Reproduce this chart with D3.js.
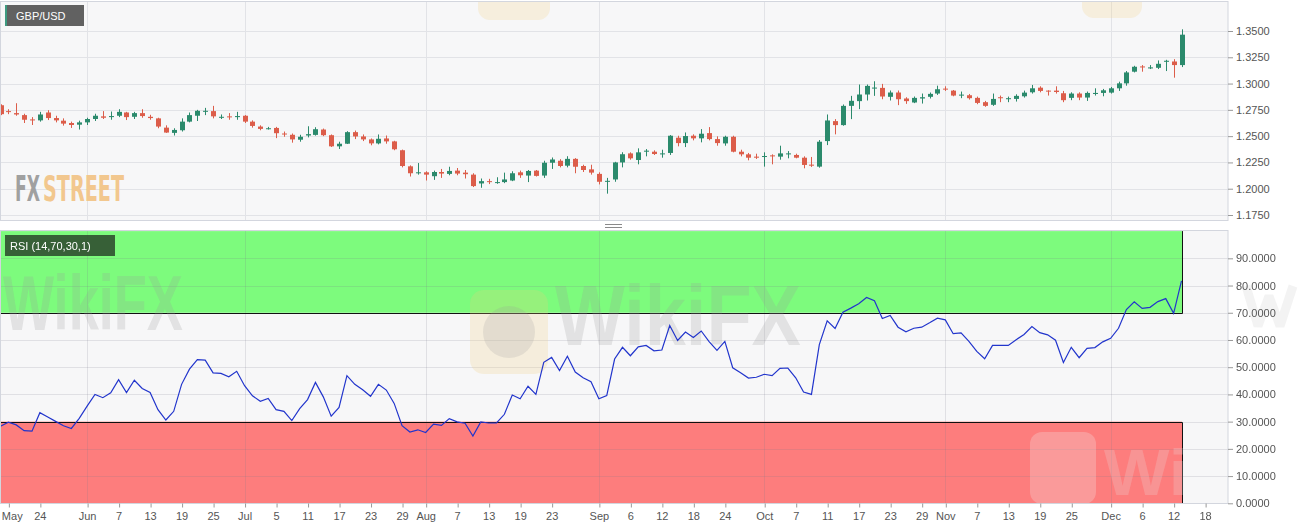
<!DOCTYPE html>
<html>
<head>
<meta charset="utf-8">
<script src="https://cdn.jsdelivr.net/npm/d3@7"></script>
<style>
  html, body { margin: 0; padding: 0; background: #fff; }
  svg { display: block; font-family: "Liberation Sans", Arial, sans-serif; }
  .axis text { fill: #555; font-size: 11px; }
  .axis line { stroke: #999; }
  .axis path { display: none; }
</style>
</head>
<body>
<svg id="chart" width="1299" height="530"></svg>
<script>
// GBP/USD daily, 17 May 2019 .. 13 Dec 2019 (one value per trading day)
const firstDay = new Date(2019, 4, 17);
const lastCalendarDay = new Date(2019, 11, 21);

const open = [
  1.2794, 1.2738, 1.2719, 1.2700, 1.2659, 1.2650, 1.2725, 1.2672, 1.2647, 1.2625,
  1.2609, 1.2631, 1.2663, 1.2688, 1.2681, 1.2694, 1.2725, 1.2684, 1.2719, 1.2684,
  1.2669, 1.2581, 1.2531, 1.2556, 1.2638, 1.2694, 1.2734, 1.2738, 1.2678, 1.2688,
  1.2681, 1.2694, 1.2638, 1.2591, 1.2569, 1.2578, 1.2525, 1.2513, 1.2466, 1.2506,
  1.2512, 1.2563, 1.2509, 1.2403, 1.2428, 1.2538, 1.2497, 1.2469, 1.2431, 1.2478,
  1.2450, 1.2366, 1.2213, 1.2147, 1.2156, 1.2119, 1.2159, 1.2141, 1.2172, 1.2153,
  1.2134, 1.2050, 1.2072, 1.2056, 1.2063, 1.2078, 1.2156, 1.2125, 1.2172, 1.2125,
  1.2247, 1.2266, 1.2219, 1.2284, 1.2216, 1.2184, 1.2141, 1.2069, 1.2088, 1.2250,
  1.2336, 1.2273, 1.2352, 1.2352, 1.2327, 1.2340, 1.2485, 1.2434, 1.2504, 1.2479,
  1.2529, 1.2472, 1.2431, 1.2494, 1.2352, 1.2327, 1.2305, 1.2302, 1.2317, 1.2305,
  1.2327, 1.2321, 1.2295, 1.2229, 1.2210, 1.2453, 1.2643, 1.2605, 1.2788, 1.2833,
  1.2896, 1.2953, 1.2959, 1.2874, 1.2915, 1.2858, 1.2820, 1.2858, 1.2874, 1.2905,
  1.2952, 1.2933, 1.2886, 1.2889, 1.2864, 1.2823, 1.2798, 1.2870, 1.2851, 1.2854,
  1.2879, 1.2917, 1.2961, 1.2933, 1.2933, 1.2908, 1.2864, 1.2905, 1.2867, 1.2901,
  1.2911, 1.2914, 1.2955, 1.3002, 1.3113, 1.3163, 1.3144, 1.3150, 1.3207, 1.3210,
  1.3176
];
const high = [
  1.2803, 1.2756, 1.2813, 1.2713, 1.2681, 1.2731, 1.2747, 1.2694, 1.2669, 1.2638,
  1.2647, 1.2675, 1.2713, 1.2738, 1.2734, 1.2756, 1.2731, 1.2731, 1.2756, 1.2703,
  1.2675, 1.2603, 1.2575, 1.2669, 1.2725, 1.2750, 1.2769, 1.2788, 1.2706, 1.2719,
  1.2731, 1.2700, 1.2650, 1.2603, 1.2588, 1.2588, 1.2544, 1.2525, 1.2513, 1.2594,
  1.2585, 1.2572, 1.2516, 1.2447, 1.2547, 1.2553, 1.2516, 1.2478, 1.2516, 1.2506,
  1.2456, 1.2372, 1.2222, 1.2244, 1.2166, 1.2172, 1.2188, 1.2209, 1.2197, 1.2178,
  1.2147, 1.2097, 1.2094, 1.2109, 1.2153, 1.2166, 1.2172, 1.2178, 1.2178, 1.2266,
  1.2297, 1.2281, 1.2309, 1.2291, 1.2228, 1.2228, 1.2156, 1.2103, 1.2256, 1.2347,
  1.2346, 1.2384, 1.2377, 1.2365, 1.2371, 1.2510, 1.2504, 1.2535, 1.2517, 1.2567,
  1.2586, 1.2498, 1.2504, 1.2504, 1.2371, 1.2340, 1.2333, 1.2346, 1.2327, 1.2409,
  1.2358, 1.2333, 1.2308, 1.2302, 1.2463, 1.2706, 1.2662, 1.2801, 1.2883, 1.2991,
  1.2991, 1.3022, 1.2997, 1.2934, 1.2934, 1.2870, 1.2877, 1.2905, 1.2915, 1.2980,
  1.2974, 1.2939, 1.2924, 1.2901, 1.2876, 1.2835, 1.2905, 1.2886, 1.2876, 1.2898,
  1.2933, 1.2987, 1.2974, 1.2936, 1.2974, 1.2930, 1.2917, 1.2917, 1.2924, 1.2955,
  1.2949, 1.2968, 1.3018, 1.3119, 1.3169, 1.3176, 1.3176, 1.3220, 1.3226, 1.3232,
  1.3516
];
const low = [
  1.2700, 1.2709, 1.2694, 1.2625, 1.2606, 1.2638, 1.2653, 1.2631, 1.2600, 1.2578,
  1.2563, 1.2606, 1.2644, 1.2663, 1.2656, 1.2681, 1.2653, 1.2663, 1.2675, 1.2656,
  1.2575, 1.2531, 1.2506, 1.2544, 1.2631, 1.2644, 1.2700, 1.2669, 1.2663, 1.2656,
  1.2656, 1.2625, 1.2581, 1.2556, 1.2563, 1.2481, 1.2494, 1.2438, 1.2447, 1.2488,
  1.2505, 1.2500, 1.2397, 1.2378, 1.2425, 1.2472, 1.2453, 1.2413, 1.2422, 1.2428,
  1.2366, 1.2203, 1.2116, 1.2134, 1.2078, 1.2084, 1.2103, 1.2128, 1.2128, 1.2097,
  1.2016, 1.2009, 1.2044, 1.2047, 1.2053, 1.2072, 1.2103, 1.2063, 1.2116, 1.2103,
  1.2188, 1.2203, 1.2203, 1.2147, 1.2159, 1.2134, 1.2041, 1.1953, 1.2066, 1.2203,
  1.2276, 1.2232, 1.2308, 1.2321, 1.2295, 1.2321, 1.2403, 1.2396, 1.2460, 1.2441,
  1.2460, 1.2409, 1.2409, 1.2346, 1.2308, 1.2270, 1.2283, 1.2210, 1.2232, 1.2276,
  1.2289, 1.2289, 1.2194, 1.2207, 1.2200, 1.2415, 1.2517, 1.2599, 1.2662, 1.2757,
  1.2839, 1.2883, 1.2851, 1.2839, 1.2795, 1.2807, 1.2814, 1.2810, 1.2858, 1.2892,
  1.2930, 1.2879, 1.2861, 1.2848, 1.2804, 1.2779, 1.2788, 1.2823, 1.2823, 1.2829,
  1.2867, 1.2905, 1.2917, 1.2886, 1.2905, 1.2823, 1.2842, 1.2842, 1.2835, 1.2886,
  1.2879, 1.2905, 1.2930, 1.2980, 1.3106, 1.3113, 1.3138, 1.3138, 1.3119, 1.3056,
  1.3157
];
const close = [
  1.2709, 1.2731, 1.2706, 1.2656, 1.2653, 1.2706, 1.2672, 1.2650, 1.2619, 1.2606,
  1.2631, 1.2663, 1.2694, 1.2675, 1.2691, 1.2731, 1.2681, 1.2719, 1.2691, 1.2672,
  1.2591, 1.2534, 1.2559, 1.2638, 1.2700, 1.2741, 1.2741, 1.2688, 1.2684, 1.2681,
  1.2691, 1.2638, 1.2597, 1.2569, 1.2575, 1.2528, 1.2519, 1.2469, 1.2494, 1.2519,
  1.2566, 1.2509, 1.2403, 1.2428, 1.2538, 1.2497, 1.2469, 1.2431, 1.2475, 1.2450,
  1.2375, 1.2216, 1.2147, 1.2156, 1.2134, 1.2159, 1.2144, 1.2169, 1.2144, 1.2138,
  1.2025, 1.2072, 1.2066, 1.2063, 1.2088, 1.2147, 1.2128, 1.2169, 1.2122, 1.2247,
  1.2278, 1.2216, 1.2284, 1.2209, 1.2178, 1.2153, 1.2066, 1.2075, 1.2250, 1.2328,
  1.2289, 1.2346, 1.2362, 1.2330, 1.2336, 1.2504, 1.2434, 1.2501, 1.2479, 1.2523,
  1.2472, 1.2434, 1.2494, 1.2352, 1.2327, 1.2295, 1.2295, 1.2311, 1.2308, 1.2336,
  1.2336, 1.2295, 1.2226, 1.2219, 1.2447, 1.2649, 1.2605, 1.2788, 1.2836, 1.2896,
  1.2978, 1.2962, 1.2877, 1.2915, 1.2851, 1.2833, 1.2864, 1.2870, 1.2902, 1.2946,
  1.2946, 1.2886, 1.2895, 1.2861, 1.2816, 1.2788, 1.2854, 1.2861, 1.2861, 1.2883,
  1.2914, 1.2955, 1.2930, 1.2924, 1.2920, 1.2842, 1.2905, 1.2867, 1.2911, 1.2911,
  1.2936, 1.2955, 1.3002, 1.3106, 1.3160, 1.3154, 1.3154, 1.3188, 1.3217, 1.3176,
  1.3465
];
const rsi = [
  28.3, 29.8, 28.8, 26.7, 26.5, 33.3, 31.7, 30.1, 28.5, 27.5,
  31.2, 35.7, 40.0, 38.8, 40.6, 45.4, 40.7, 45.2, 42.2, 40.7,
  34.4, 30.6, 33.8, 43.7, 49.3, 52.8, 52.6, 47.9, 47.7, 46.5,
  48.5, 43.2, 39.5, 37.5, 38.5, 34.4, 33.8, 30.4, 34.8, 38.1,
  44.4, 39.1, 32.0, 35.2, 46.9, 43.7, 41.7, 39.3, 43.7, 41.6,
  36.7, 28.5, 26.2, 27.0, 26.0, 29.1, 28.6, 31.1, 29.9, 29.4,
  24.7, 29.9, 29.5, 29.5, 32.7, 39.8, 38.4, 43.0, 40.0, 51.8,
  53.6, 48.8, 54.0, 48.2, 46.1, 44.7, 38.4, 39.6, 53.0, 57.3,
  54.2, 57.5, 58.0, 56.0, 56.3, 65.3, 59.8, 62.9, 60.9, 63.3,
  59.4, 56.2, 59.5, 49.8, 48.0, 46.0, 46.3, 47.4, 46.9, 49.6,
  49.7, 46.1, 40.9, 40.0, 58.3, 67.0, 64.2, 70.2, 71.7, 73.3,
  75.6, 74.4, 67.9, 69.0, 64.7, 63.0, 64.3, 64.7, 66.3, 68.0,
  67.4, 62.3, 62.6, 59.5, 55.8, 53.1, 58.0, 58.0, 58.0, 60.1,
  62.0, 64.9, 62.7, 61.9, 59.9, 51.7, 57.3, 53.5, 56.9, 57.2,
  59.3, 60.6, 64.3, 71.2, 74.0, 71.6, 72.0, 74.1, 75.2, 69.8,
  81.7
];

const priceTicks = [1.175, 1.2, 1.225, 1.25, 1.275, 1.3, 1.325, 1.35];
const rsiTicks = [0, 10, 20, 30, 40, 50, 60, 70, 80, 90];
const rsiUpper = 70, rsiLower = 30;

const tickDates = ['2019-05-20', '2019-05-24', '2019-06-03', '2019-06-07', '2019-06-13', '2019-06-19',
  '2019-06-25', '2019-07-01', '2019-07-05', '2019-07-11', '2019-07-17', '2019-07-23', '2019-07-29',
  '2019-08-01', '2019-08-07', '2019-08-13', '2019-08-19', '2019-08-23', '2019-09-02', '2019-09-06',
  '2019-09-12', '2019-09-18', '2019-09-24', '2019-10-01', '2019-10-07', '2019-10-11', '2019-10-17',
  '2019-10-23', '2019-10-29', '2019-11-01', '2019-11-07', '2019-11-13', '2019-11-19', '2019-11-25',
  '2019-12-02', '2019-12-06', '2019-12-12', '2019-12-18'];
const tickLabels = ['May', '24', 'Jun', '7', '13', '19', '25', 'Jul', '5', '11', '17', '23', '29',
  'Aug', '7', '13', '19', '23', 'Sep', '6', '12', '18', '24', 'Oct', '7', '11', '17', '23', '29',
  'Nov', '7', '13', '19', '25', 'Dec', '6', '12', '18'];
const monthStarts = ['2019-06-03', '2019-07-01', '2019-08-01', '2019-09-02', '2019-10-01', '2019-11-01', '2019-12-02'];

// trading calendar (weekdays) so the axis skips weekends
const fmt = d3.timeFormat('%Y-%m-%d');
const tradingDays = d3.timeDay.range(firstDay, lastCalendarDay).filter(d => d.getDay() % 6 !== 0);
const dayIndex = new Map(tradingDays.map((d, i) => [fmt(d), i]));

const candles = open.map((o, i) => ({ i, o, h: high[i], l: low[i], c: close[i] }));

const plotRight = 1228;
const pricePane = { y0: 1.5, y1: 220.5 };
const rsiPane = { y0: 230.5, y1: 503.5 };

const x = d3.scaleLinear().domain([0, open.length - 1]).range([0.5, 1181.5]);
const yP = d3.scaleLinear().domain([1.175, 1.35]).range([215, 31]);
const yR = d3.scaleLinear().domain([0, 100]).range([503.3, 231.1]);

const svg = d3.select('#chart');
const defs = svg.append('defs');
defs.append('clipPath').attr('id', 'clipTop').append('rect')
  .attr('x', 0).attr('y', pricePane.y0).attr('width', plotRight).attr('height', pricePane.y1 - pricePane.y0);
defs.append('clipPath').attr('id', 'clipBot').append('rect')
  .attr('x', 0).attr('y', rsiPane.y0).attr('width', plotRight).attr('height', rsiPane.y1 - rsiPane.y0);

const green = '#2b8a6c', red = '#dc5d4a';

// squeeze a watermark word into a given width with a transform
function squeezed(parent, str, x0, y0, width, size, fill, family) {
  const g = parent.append('g');
  const t = g.append('text').attr('font-weight', 'bold').attr('font-size', size).attr('fill', fill).text(str);
  if (family) t.attr('font-family', family);
  const w = t.node().getComputedTextLength() || width;
  g.attr('transform', `translate(${x0},${y0}) scale(${width / w},1)`);
  return g;
}

// ---------- price panel ----------
svg.append('rect').attr('x', 0.5).attr('y', pricePane.y0).attr('width', plotRight - 0.5).attr('height', pricePane.y1 - pricePane.y0)
  .attr('fill', '#f7f7f8');

const gTop = svg.append('g').attr('clip-path', 'url(#clipTop)');

gTop.selectAll('.hgrid').data(priceTicks).enter().append('line')
  .attr('x1', 0).attr('x2', plotRight)
  .attr('y1', d => Math.round(yP(d)) + 0.5).attr('y2', d => Math.round(yP(d)) + 0.5)
  .attr('stroke', '#e2e3e7');
gTop.selectAll('.vgrid').data(monthStarts).enter().append('line')
  .attr('x1', d => Math.round(x(dayIndex.get(d))) + 0.5).attr('x2', d => Math.round(x(dayIndex.get(d))) + 0.5)
  .attr('y1', pricePane.y0).attr('y2', pricePane.y1)
  .attr('stroke', '#e2e3e7');

// faint watermark logos at the top
gTop.append('rect').attr('x', 478).attr('y', -40).attr('width', 72).attr('height', 60).attr('rx', 12)
  .attr('fill', '#f3d58c').attr('opacity', 0.25);
gTop.append('rect').attr('x', 1082).attr('y', -40).attr('width', 60).attr('height', 58).attr('rx', 12)
  .attr('fill', '#f3d58c').attr('opacity', 0.25);

// FXSTREET watermark
const fxFont = '"Liberation Sans Narrow", "DejaVu Sans Condensed", sans-serif';
squeezed(gTop, 'FX', 15, 201, 25, 36, '#a0a0a0', fxFont);
squeezed(gTop, 'STREET', 43, 201, 81, 36, '#f2c78e', fxFont);

const cg = gTop.selectAll('.candle').data(candles).enter().append('g');
cg.append('line')
  .attr('x1', d => Math.round(x(d.i)) + 0.5).attr('x2', d => Math.round(x(d.i)) + 0.5)
  .attr('y1', d => yP(d.h)).attr('y2', d => yP(d.l))
  .attr('stroke', d => d.c >= d.o ? green : red).attr('stroke-width', 1);
cg.append('rect')
  .attr('x', d => Math.round(x(d.i)) - 2)
  .attr('y', d => yP(Math.max(d.o, d.c)))
  .attr('width', 5)
  .attr('height', d => Math.max(1, Math.abs(yP(d.o) - yP(d.c))))
  .attr('fill', d => d.c >= d.o ? green : red);

svg.append('rect').attr('x', 0.5).attr('y', pricePane.y0).attr('width', plotRight - 0.5).attr('height', pricePane.y1 - pricePane.y0)
  .attr('fill', 'none').attr('stroke', '#d3d6de');

svg.append('g').attr('class', 'axis').attr('transform', `translate(${plotRight},0)`)
  .call(d3.axisRight(yP).tickValues(priceTicks).tickFormat(d3.format('.4f')).tickSize(5).tickPadding(3));

// symbol badge
svg.append('rect').attr('x', 5).attr('y', 5).attr('width', 79).attr('height', 21).attr('fill', '#616161');
svg.append('rect').attr('x', 5).attr('y', 5).attr('width', 2).attr('height', 21).attr('fill', '#3e9a80');
svg.append('text').attr('x', 16).attr('y', 19.5).attr('fill', '#fff').attr('font-size', 11).text('GBP/USD');

// splitter handle
[224.5, 227.5].forEach(yy => svg.append('line').attr('x1', 605).attr('x2', 622).attr('y1', yy).attr('y2', yy)
  .attr('stroke', '#8a8a8a'));

// ---------- RSI panel ----------
svg.append('rect').attr('x', 0.5).attr('y', rsiPane.y0).attr('width', plotRight - 0.5).attr('height', rsiPane.y1 - rsiPane.y0)
  .attr('fill', '#f7f7f8');
const gBot = svg.append('g').attr('clip-path', 'url(#clipBot)');

const zoneRight = x(open.length - 1);
gBot.append('rect').attr('x', 0.5).attr('y', yR(100)).attr('width', zoneRight)
  .attr('height', yR(rsiUpper) - yR(100)).attr('fill', '#7dfb7d');
gBot.append('rect').attr('x', 0.5).attr('y', yR(rsiLower)).attr('width', zoneRight)
  .attr('height', yR(0) - yR(rsiLower)).attr('fill', '#fd7d7d');

gBot.selectAll('.hgrid').data(rsiTicks).enter().append('line')
  .attr('x1', 0).attr('x2', plotRight)
  .attr('y1', d => Math.round(yR(d)) + 0.5).attr('y2', d => Math.round(yR(d)) + 0.5)
  .attr('stroke', 'rgba(120,120,140,0.18)');
gBot.selectAll('.vgrid').data(monthStarts).enter().append('line')
  .attr('x1', d => Math.round(x(dayIndex.get(d))) + 0.5).attr('x2', d => Math.round(x(dayIndex.get(d))) + 0.5)
  .attr('y1', rsiPane.y0).attr('y2', rsiPane.y1)
  .attr('stroke', 'rgba(120,120,140,0.18)');

// zone outlines
const zx = Math.round(zoneRight) + 0.5;
gBot.append('path')
  .attr('d', `M0.5,${yR(100)}V${Math.round(yR(rsiUpper)) + 0.5}H${zx}V${yR(100)}`)
  .attr('fill', 'none').attr('stroke', '#111');
gBot.append('path')
  .attr('d', `M0.5,${yR(0)}V${Math.round(yR(rsiLower)) + 0.5}H${zx}V${yR(0)}`)
  .attr('fill', 'none').attr('stroke', '#111');

// WikiFX watermarks
const wm = gBot.append('g').attr('opacity', 0.22);
squeezed(wm, 'WikiFX', 3, 330, 180, 78, '#9a9a9a');
squeezed(wm, 'WikiFX', 555, 345, 246, 86, '#9a9a9a');
squeezed(wm, 'Wi', 1104, 495, 84, 64, '#e8e8e8');
gBot.append('rect').attr('x', 470).attr('y', 290).attr('width', 78).attr('height', 84).attr('rx', 14)
  .attr('fill', '#f0cf7a').attr('opacity', 0.22);
gBot.append('circle').attr('cx', 509).attr('cy', 332).attr('r', 26).attr('fill', '#9a9a9a').attr('opacity', 0.2);
gBot.append('rect').attr('x', 1030).attr('y', 432).attr('width', 66).attr('height', 72).attr('rx', 12)
  .attr('fill', '#f4f4f4').attr('opacity', 0.25);

const line = d3.line().x((d, i) => x(i)).y(d => yR(d));
gBot.append('path').datum(rsi).attr('d', line)
  .attr('fill', 'none').attr('stroke', '#2235cc').attr('stroke-width', 1.2);

svg.append('rect').attr('x', 0.5).attr('y', rsiPane.y0).attr('width', plotRight - 0.5).attr('height', rsiPane.y1 - rsiPane.y0)
  .attr('fill', 'none').attr('stroke', '#d3d6de');

// partial watermark glyph behind the right-hand RSI labels
svg.append('path').attr('d', 'M1246,286L1258,326L1269,296L1280,326L1293,286')
  .attr('fill', 'none').attr('stroke', '#9a9a9a').attr('stroke-width', 9)
  .attr('stroke-linejoin', 'bevel').attr('opacity', 0.12);

svg.append('g').attr('class', 'axis').attr('transform', `translate(${plotRight},0)`)
  .call(d3.axisRight(yR).tickValues(rsiTicks).tickFormat(d3.format('.4f')).tickSize(5).tickPadding(3));

svg.append('rect').attr('x', 5).attr('y', 235).attr('width', 110).attr('height', 21).attr('fill', '#2d4a2d').attr('opacity', 0.88);
svg.append('text').attr('x', 10).attr('y', 249.5).attr('fill', '#fff').attr('font-size', 11).text('RSI (14,70,30,1)');

// ---------- time axis ----------
const xAxis = svg.append('g').attr('class', 'axis').attr('transform', `translate(0,${rsiPane.y1})`)
  .call(d3.axisBottom(x)
    .tickValues(tickDates.map(d => dayIndex.get(d)))
    .tickFormat((d, i) => tickLabels[i])
    .tickSize(4).tickPadding(5));
xAxis.selectAll('.tick line').attr('transform', 'translate(0.5,0)');
xAxis.select('.tick text').attr('text-anchor', 'start').attr('x', -7);
</script>
</body>
</html>
